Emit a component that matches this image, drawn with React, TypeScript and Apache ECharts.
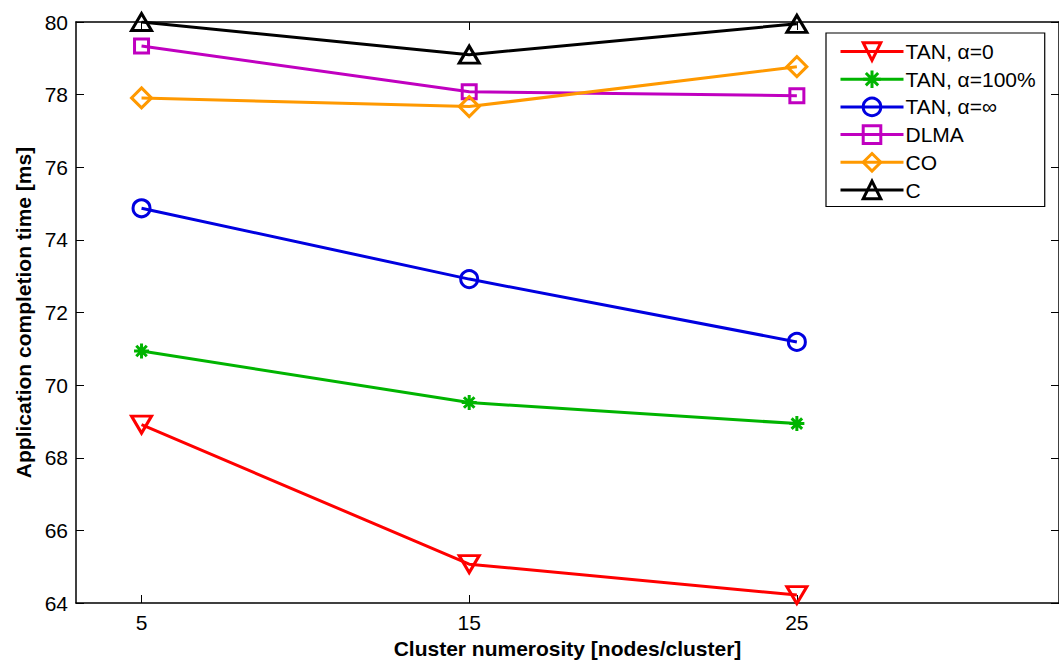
import React, { useEffect, useRef } from "react";
import * as echarts from "echarts";

const xValues = [5, 15, 25];
const xTicks = [5, 15, 25];
const yTicks = [64, 66, 68, 70, 72, 74, 76, 78, 80];

const seriesNames = ["TAN, α=0", "TAN, α=100%", "TAN, α=∞", "DLMA", "CO", "C"];
const tanAlpha0 = [68.91, 65.07, 64.22];
const tanAlpha100 = [70.94, 69.52, 68.94];
const tanAlphaInf = [74.87, 72.92, 71.19];
const dlma = [79.34, 78.08, 77.97];
const co = [77.91, 77.67, 78.77];
const cBase = [80.0, 79.1, 79.95];

const colors = ["#ff0000", "#00b400", "#0000e0", "#c000c0", "#ff9900", "#000000"];
const STAR = "path://M0,-10L0,10M-10,0L10,0M-7,-7L7,7M-7,7L7,-7";

export default function App() {
  const ref = useRef<HTMLDivElement>(null);
  useEffect(() => {
    if (!ref.current) return;
    const chart = echarts.init(ref.current, null, { renderer: "svg" });
    const dataSets = [tanAlpha0, tanAlpha100, tanAlphaInf, dlma, co, cBase];
    const symbols: any[] = ["triangle", STAR, "circle", "rect", "diamond", "triangle"];
    const sizes: any[] = [[20, 17], 15, 17, 14, 20, [20, 17]];
    const rotates = [180, 0, 0, 0, 0, 0];
    const font = "Liberation Sans, Arial, sans-serif";
    const series = dataSets.map((d, i) => ({
      name: seriesNames[i],
      type: "line",
      data: d.map((v, j) => [xValues[j], v]),
      symbol: symbols[i],
      symbolSize: sizes[i],
      symbolRotate: rotates[i],
      showAllSymbol: true,
      z: 2 + i,
      lineStyle: { color: colors[i], width: 3 },
      itemStyle: { color: "transparent", borderColor: colors[i], borderWidth: 3 },
      emphasis: { disabled: true },
    }));
    const axisLineStyle = { color: "#000", width: 1.5 };
    chart.setOption({
      animation: false,
      textStyle: { fontFamily: font },
      grid: { left: 76, top: 22, right: -1, bottom: 59, containLabel: false },
      legend: {
        orient: "vertical",
        left: 826,
        top: 33,
        padding: [8, 9, 6, 13],
        itemWidth: 63,
        itemHeight: 22,
        itemGap: 6.7,
        borderColor: "#000",
        borderWidth: 1.2,
        backgroundColor: "#fff",
        lineStyle: { width: 3 },
        itemStyle: { borderWidth: 3 },
        textStyle: { fontSize: 21, color: "#000", fontFamily: font, padding: [0, 0, 0, -3] },
        data: seriesNames,
      },
      xAxis: [
        {
          type: "value",
          min: 3,
          max: 33,
          position: "bottom",
          name: "Cluster numerosity [nodes/cluster]",
          nameLocation: "middle",
          nameGap: 35,
          nameTextStyle: { fontSize: 21, fontWeight: "bold", color: "#000", fontFamily: font },
          axisLine: { show: true, lineStyle: axisLineStyle },
          axisTick: { show: true, inside: true, length: 8, customValues: xTicks, lineStyle: { color: "#000" } },
          axisLabel: { customValues: xTicks, fontSize: 21, color: "#000", margin: 9, fontFamily: font },
          splitLine: { show: false },
        },
        {
          type: "value",
          min: 3,
          max: 33,
          position: "top",
          axisLine: { show: true, lineStyle: axisLineStyle },
          axisTick: { show: true, inside: true, length: 8, customValues: xTicks, lineStyle: { color: "#000" } },
          axisLabel: { show: false },
          splitLine: { show: false },
        },
      ],
      yAxis: [
        {
          type: "value",
          min: 64,
          max: 80,
          interval: 2,
          position: "left",
          name: "Application completion time [ms]",
          nameLocation: "middle",
          nameGap: 42,
          nameTextStyle: { fontSize: 21, fontWeight: "bold", color: "#000", fontFamily: font },
          axisLine: { show: true, lineStyle: axisLineStyle },
          axisTick: { show: true, inside: true, length: 8, lineStyle: { color: "#000" } },
          axisLabel: { fontSize: 21, color: "#000", margin: 8, customValues: yTicks, fontFamily: font },
          splitLine: { show: false },
        },
        {
          type: "value",
          min: 64,
          max: 80,
          interval: 2,
          position: "right",
          axisLine: { show: true, lineStyle: axisLineStyle },
          axisTick: { show: true, inside: true, length: 8, lineStyle: { color: "#000" } },
          axisLabel: { show: false },
          splitLine: { show: false },
        },
      ],
      series,
    });
    return () => chart.dispose();
  }, []);
  return (
    <div
      ref={ref}
      style={{ position: "absolute", left: 0, top: 0, width: 1059, height: 664, background: "#fff" }}
    />
  );
}
